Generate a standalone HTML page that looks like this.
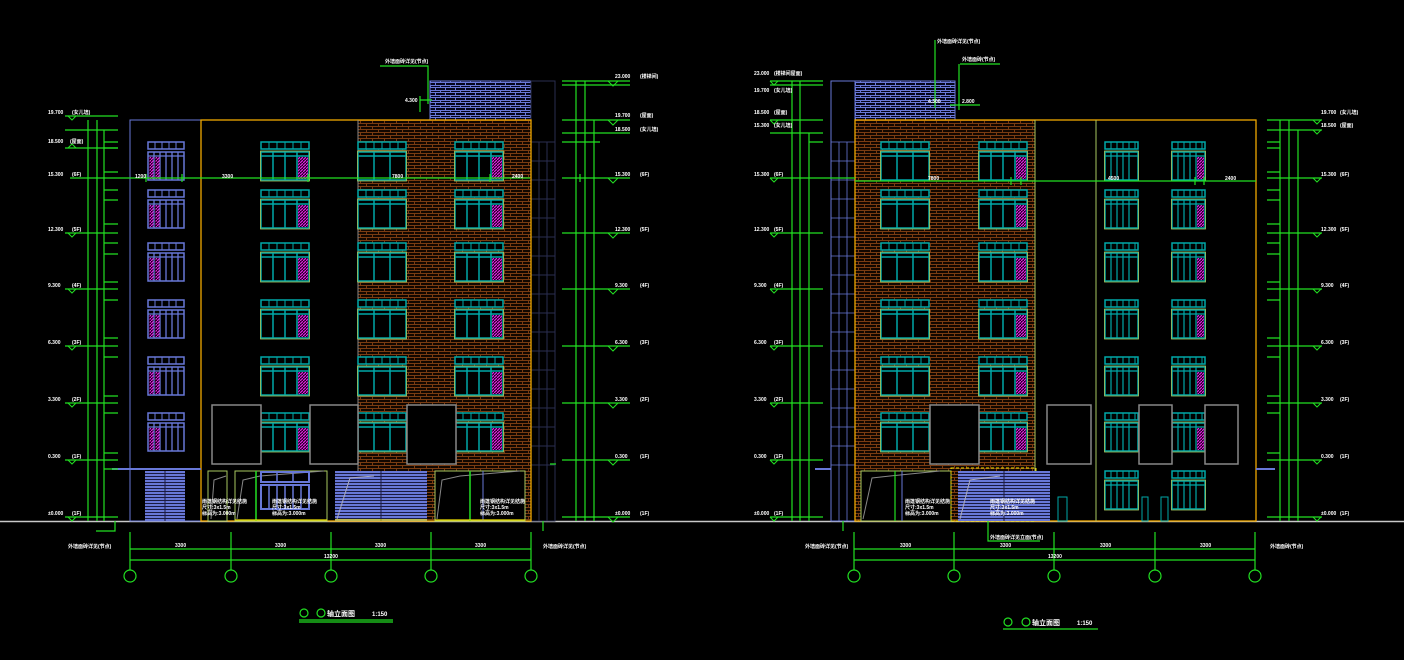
<!DOCTYPE html>
<html><head><meta charset="utf-8"><style>
html,body{margin:0;padding:0;background:#000;width:1404px;height:660px;overflow:hidden}
svg{display:block}
text{font-family:"Liberation Sans","Noto Sans CJK SC",sans-serif;fill:#fff;font-size:5px;font-weight:bold}
</style></head><body>
<svg width="1404" height="660" viewBox="0 0 1404 660" xmlns="http://www.w3.org/2000/svg">
<defs>
<pattern id="brk" width="12" height="6" patternUnits="userSpaceOnUse">
<rect width="12" height="6" fill="#120700"/>
<path d="M0 0.5H12M0 3.5H12M0.5 0.5V3.5M6.5 3.5V6" stroke="#7a3c12" stroke-width="1"/>
</pattern>
<pattern id="bbrk" width="10" height="5" patternUnits="userSpaceOnUse">
<rect width="10" height="5" fill="#05051a"/>
<path d="M0 0.5H10M0.5 0.5V2.5M5.5 2.5V5M0 2.5H10" stroke="#6a78d8" stroke-width="1"/>
</pattern>
<pattern id="mag" width="3" height="3" patternUnits="userSpaceOnUse">
<rect width="3" height="3" fill="#200020"/>
<path d="M0 3L3 0" stroke="#e020e0" stroke-width="1.2"/>
</pattern>
<g id="w48">
<rect x="0" y="0" width="48" height="7" fill="#000" stroke="#00a8a8" stroke-width="1.5"/>
<path d="M8 0V7M16 0V7M24 0V7M32 0V7M40 0V7" stroke="#00a8a8"/>
<rect x="0" y="10" width="48" height="28" fill="#000" stroke="#00a8a8" stroke-width="1.5"/>
<path d="M0 14H48M12 10V38M24 10V38M36 10V38" stroke="#00a8a8" stroke-width="1.5"/>
<rect x="37" y="15" width="10" height="22" fill="url(#mag)"/>
<rect x="-0.5" y="9" width="49" height="30" fill="none" stroke="#a8c860" stroke-width="0.8"/>
</g>
<g id="w48n">
<rect x="0" y="0" width="48" height="7" fill="#000" stroke="#00a8a8" stroke-width="1.5"/>
<path d="M8 0V7M16 0V7M24 0V7M32 0V7M40 0V7" stroke="#00a8a8"/>
<rect x="0" y="10" width="48" height="28" fill="#000" stroke="#00a8a8" stroke-width="1.5"/>
<path d="M0 14H48M16 10V38M32 10V38" stroke="#00a8a8" stroke-width="1.5"/>
<rect x="-0.5" y="9" width="49" height="30" fill="none" stroke="#a8c860" stroke-width="0.8"/>
</g>
<g id="w33">
<rect x="0" y="0" width="33" height="7" fill="#000" stroke="#00a8a8" stroke-width="1.5"/>
<path d="M6 0V7M12 0V7M18 0V7M24 0V7M30 0V7" stroke="#00a8a8"/>
<rect x="0" y="10" width="33" height="28" fill="#000" stroke="#00a8a8" stroke-width="1.5"/>
<path d="M0 14H33M6 10V38M12 10V38M18 10V38M24 10V38" stroke="#00a8a8" stroke-width="1.2"/>
<rect x="-0.5" y="9" width="34" height="30" fill="none" stroke="#a8c860" stroke-width="0.8"/>
</g>
<g id="w33m">
<use href="#w33"/>
<rect x="25" y="15" width="7" height="22" fill="url(#mag)"/>
</g>
<g id="wb">
<rect x="0" y="0" width="36" height="7" fill="#000" stroke="#6878d8" stroke-width="1.5"/>
<path d="M7 0V7M14 0V7M21 0V7M28 0V7" stroke="#6878d8"/>
<rect x="0" y="10" width="36" height="28" fill="#000" stroke="#6878d8" stroke-width="1.5"/>
<path d="M0 14H36M6 10V38M12 10V38M18 10V38M24 10V38M30 10V38" stroke="#6878d8" stroke-width="1.3"/>
<rect x="1.5" y="15" width="4" height="22" fill="url(#mag)"/>
<rect x="7.5" y="15" width="4" height="22" fill="url(#mag)"/>
</g>
<g id="shut">
<path d="M0 0H40" stroke="#6878d8"/>
</g>
<pattern id="lou" width="4" height="3" patternUnits="userSpaceOnUse">
<rect width="4" height="3" fill="#6878d8"/><path d="M0 2.5H4" stroke="#1a1a40" stroke-width="1"/>
</pattern>
</defs>

<!-- ground line -->
<path d="M0 521.5H1404" stroke="#c8c8c8" stroke-width="1.5"/>

<!-- ============ LEFT BUILDING ============ -->
<rect x="358" y="120" width="173" height="401" fill="url(#brk)"/>
<rect x="430" y="81" width="101" height="39" fill="url(#bbrk)" stroke="#6a78d8"/>
<rect x="531" y="81" width="24" height="440" fill="none" stroke="#2a2e50"/>
<path d="M531 142H555M531 161H555M531 180H555M531 199H555M531 218H555M531 237H555M531 256H555M531 275H555M531 294H555M531 313H555M531 332H555M531 351H555M531 370H555M531 389H555M531 408H555M531 427H555M531 446H555M531 465H555M539 142V521M547 142V521" stroke="#2a2e50"/>
<rect x="130" y="120" width="71" height="401" fill="none" stroke="#6878d8"/>
<rect x="201" y="120" width="330" height="401" fill="none" stroke="#f0a800" stroke-width="1.3"/>
<path d="M358 120V521" stroke="#888" />
<!-- windows -->
<g>
<use href="#wb" x="148" y="142"/><use href="#wb" x="148" y="190"/><use href="#wb" x="148" y="243"/><use href="#wb" x="148" y="300"/><use href="#wb" x="148" y="357"/><use href="#wb" x="148" y="413"/>
<use href="#w48" x="261" y="142"/><use href="#w48" x="261" y="190"/><use href="#w48" x="261" y="243"/><use href="#w48" x="261" y="300"/><use href="#w48" x="261" y="357"/><use href="#w48" x="261" y="413"/>
<use href="#w48n" x="358" y="142"/><use href="#w48n" x="358" y="190"/><use href="#w48n" x="358" y="243"/><use href="#w48n" x="358" y="300"/><use href="#w48n" x="358" y="357"/><use href="#w48n" x="358" y="413"/>
<use href="#w48" x="455" y="142"/><use href="#w48" x="455" y="190"/><use href="#w48" x="455" y="243"/><use href="#w48" x="455" y="300"/><use href="#w48" x="455" y="357"/><use href="#w48" x="455" y="413"/>
</g>
<!-- grey openings -->
<rect x="212" y="405" width="49" height="59" fill="#000" stroke="#888" stroke-width="1.5"/>
<rect x="310" y="405" width="48" height="59" fill="#000" stroke="#888" stroke-width="1.5"/>
<rect x="407" y="405" width="49" height="59" fill="#000" stroke="#888" stroke-width="1.5"/>
<!-- ground floor -->
<path d="M112 469H201" stroke="#6878d8" stroke-width="2"/>
<rect x="145" y="471" width="40" height="50" fill="url(#lou)"/><path d="M165 471V521" stroke="#1a1a40"/>
<rect x="208" y="471" width="19" height="50" fill="#000" stroke="#a8c860"/>
<path d="M211 519L214 480L226 476" stroke="#888" fill="none"/>
<rect x="235" y="471" width="92" height="50" fill="#000" stroke="#a8c860"/>
<path d="M237 519L243 480L260 476L324 471" stroke="#888" fill="none"/>
<path d="M256 471V521" stroke="#22e022" stroke-width="1.5"/>
<rect x="261" y="472" width="48" height="10" fill="none" stroke="#6878d8" stroke-width="2"/>
<rect x="261" y="485" width="48" height="24" fill="none" stroke="#6878d8" stroke-width="2"/>
<path d="M269 485V509M277 485V509M285 485V509M293 485V509M301 485V509M277 472V482M293 472V482" stroke="#6878d8" stroke-width="1.5"/>
<rect x="335" y="471" width="92" height="50" fill="url(#lou)"/><path d="M381 471V521" stroke="#1a1a40"/>
<path d="M337 519L350 478L374 476" stroke="#aab" fill="none"/>
<rect x="435" y="471" width="90" height="50" fill="#000" stroke="#a8c860"/>
<path d="M437 519L442 480L460 476L520 471" stroke="#888" fill="none"/>
<path d="M470 471V521" stroke="#22e022" stroke-width="1.5"/><path d="M483 471V521" stroke="#6878d8"/>
<path d="M235 520H327M435 520H525M335 520H427" stroke="#f0e000" stroke-width="1.2"/>
<text x="202" y="503">雨篷钢结构详见结施</text><text x="202" y="509">尺寸:3x1.5m</text><text x="202" y="515">标高为:3.000m</text>
<text x="272" y="503">雨篷钢结构详见结施</text><text x="272" y="509">尺寸:3x1.5m</text><text x="272" y="515">标高为:3.000m</text>
<text x="480" y="503">雨篷钢结构详见结施</text><text x="480" y="509">尺寸:3x1.5m</text><text x="480" y="515">标高为:3.000m</text>

<!-- left dims -->
<g stroke="#22e022" stroke-width="1.2" fill="none">
<path d="M88 120V521M97 120V521M104 130V521"/>
<path d="M65 116H118M65 130H118M65 148H118M70 178H130M65 233H118M65 289H118M65 346H118M65 403H118M65 460H118M65 517H118"/>
<path d="M104 142H118M104 148H118M104 172H118M104 190H118M104 200H118M104 224H118M104 243H118M104 254H118M104 282H118M104 300H118M104 338H118M104 357H118M104 396H118M104 413H118M104 453H118M104 469H118"/>
<path d="M130 178H530M146 174V182M182 174V182M308 174V182M580 174V182M490 174V182"/>
<path d="M380 66H428V104M420 100H432M420 96V112"/>
<path d="M576 81V521M585 81V521M594 120V521M562 81H630M562 85H630M562 120H630M562 133H630M562 142H600M562 178H630M562 233H630M562 289H630M562 346H630M562 403H630M562 460H630M562 517H630M550 464H556"/>
<path d="M115 521V531H96M543 521V531"/>
</g>
<g fill="none" stroke="#22e022">
<path d="M68 116l4 4 4-4M68 148l4-4 4 4M68 233l4 4 4-4M68 289l4 4 4-4M68 346l4 4 4-4M68 403l4 4 4-4M68 460l4 4 4-4M68 517l4 4 4-4"/>
<path d="M608 81l5 5 5-5M608 120l5 5 5-5M608 178l5 5 5-5M608 233l5 5 5-5M608 289l5 5 5-5M608 346l5 5 5-5M608 403l5 5 5-5M608 460l5 5 5-5M608 517l5 5 5-5"/>
</g>
<g>
<text x="48" y="114">19.700</text><text x="72" y="114">(女儿墙)</text>
<text x="48" y="143">18.500</text><text x="70" y="143">(屋面)</text>
<text x="48" y="176">15.300</text><text x="72" y="176">(6F)</text>
<text x="48" y="231">12.300</text><text x="72" y="231">(5F)</text>
<text x="48" y="287">9.300</text><text x="72" y="287">(4F)</text>
<text x="48" y="344">6.300</text><text x="72" y="344">(3F)</text>
<text x="48" y="401">3.300</text><text x="72" y="401">(2F)</text>
<text x="48" y="458">0.300</text><text x="72" y="458">(1F)</text>
<text x="48" y="515">±0.000</text><text x="72" y="515">(1F)</text>
<text x="615" y="78">23.000</text><text x="640" y="78">(楼梯间)</text>
<text x="615" y="117">19.700</text><text x="640" y="117">(屋面)</text>
<text x="615" y="131">18.500</text><text x="640" y="131">(女儿墙)</text>
<text x="615" y="176">15.300</text><text x="640" y="176">(6F)</text>
<text x="615" y="231">12.300</text><text x="640" y="231">(5F)</text>
<text x="615" y="287">9.300</text><text x="640" y="287">(4F)</text>
<text x="615" y="344">6.300</text><text x="640" y="344">(3F)</text>
<text x="615" y="401">3.300</text><text x="640" y="401">(2F)</text>
<text x="615" y="458">0.300</text><text x="640" y="458">(1F)</text>
<text x="615" y="515">±0.000</text><text x="640" y="515">(1F)</text>
<text x="385" y="63">外墙面砖详见(节点)</text>
<text x="405" y="102">4.300</text>
<text x="135" y="178">1200</text><text x="222" y="178">3300</text><text x="392" y="178">7800</text><text x="512" y="178">2400</text>
<text x="68" y="548">外墙面砖详见(节点)</text><text x="543" y="548">外墙面砖详见(节点)</text>
</g>
<!-- bottom axes left -->
<g stroke="#22e022" stroke-width="1.2" fill="none">
<path d="M130 549H531M130 560H531M130 532V570M231 532V570M331 532V570M431 532V570M531 532V570"/>
<circle cx="130" cy="576" r="6"/><circle cx="231" cy="576" r="6"/><circle cx="331" cy="576" r="6"/><circle cx="431" cy="576" r="6"/><circle cx="531" cy="576" r="6"/>
<path d="M299 620H393M299 622H393"/>
<circle cx="304" cy="613" r="4"/><circle cx="321" cy="613" r="4"/>
</g>
<text x="175" y="547">3300</text><text x="275" y="547">3300</text><text x="375" y="547">3300</text><text x="475" y="547">3300</text><text x="324" y="558">13200</text>
<text x="327" y="616" style="font-size:7px">轴立面图</text><text x="372" y="616" style="font-size:6px">1:150</text>

<!-- ============ RIGHT BUILDING ============ -->
<rect x="855" y="120" width="180" height="401" fill="url(#brk)"/>
<rect x="855" y="81" width="100" height="39" fill="url(#bbrk)" stroke="#6a78d8"/>
<rect x="831" y="81" width="24" height="440" fill="none" stroke="#6878d8"/>
<path d="M831 142H855M831 161H855M831 180H855M831 199H855M831 218H855M831 237H855M831 256H855M831 275H855M831 294H855M831 313H855M831 332H855M831 351H855M831 370H855M831 389H855M831 408H855M831 427H855M831 446H855M831 465H855M839 142V521M847 142V521" stroke="#6878d8" stroke-width="0.8"/>
<rect x="855" y="120" width="401" height="401" fill="none" stroke="#f0a800" stroke-width="1.3"/>
<path d="M1035 120V521M1096 120V521" stroke="#a8c860"/>
<g>
<use href="#w48n" x="881" y="142"/><use href="#w48n" x="881" y="190"/><use href="#w48n" x="881" y="243"/><use href="#w48n" x="881" y="300"/><use href="#w48n" x="881" y="357"/><use href="#w48n" x="881" y="413"/>
<use href="#w48" x="979" y="142"/><use href="#w48" x="979" y="190"/><use href="#w48" x="979" y="243"/><use href="#w48" x="979" y="300"/><use href="#w48" x="979" y="357"/><use href="#w48" x="979" y="413"/>
<use href="#w33" x="1105" y="142"/><use href="#w33" x="1105" y="190"/><use href="#w33" x="1105" y="243"/><use href="#w33" x="1105" y="300"/><use href="#w33" x="1105" y="357"/><use href="#w33" x="1105" y="413"/><use href="#w33" x="1105" y="471"/>
<use href="#w33m" x="1172" y="142"/><use href="#w33m" x="1172" y="190"/><use href="#w33m" x="1172" y="243"/><use href="#w33m" x="1172" y="300"/><use href="#w33m" x="1172" y="357"/><use href="#w33m" x="1172" y="413"/><use href="#w33" x="1172" y="471"/>
</g>
<rect x="930" y="405" width="49" height="59" fill="#000" stroke="#888" stroke-width="1.5"/>
<rect x="1047" y="405" width="44" height="59" fill="#000" stroke="#888" stroke-width="1.5"/>
<rect x="1139" y="405" width="33" height="59" fill="#000" stroke="#888" stroke-width="1.5"/>
<rect x="1205" y="405" width="33" height="59" fill="#000" stroke="#888" stroke-width="1.5"/>
<rect x="861" y="471" width="90" height="50" fill="#000" stroke="#a8c860"/>
<path d="M863 519L872 478L890 476L940 471" stroke="#888" fill="none"/>
<path d="M895 471V521" stroke="#22e022" stroke-width="1.2"/><path d="M902 471V521" stroke="#6878d8"/>
<rect x="951" y="468" width="85" height="53" fill="none" stroke="#f0e000" stroke-dasharray="3 2"/>
<rect x="958" y="471" width="92" height="50" fill="url(#lou)"/><path d="M1004 471V521" stroke="#1a1a40"/>
<path d="M960 519L970 480L1000 476" stroke="#aab" fill="none"/>
<rect x="1058" y="497" width="9" height="24" fill="none" stroke="#00a8a8"/>
<rect x="1142" y="497" width="6" height="24" fill="none" stroke="#00a8a8"/>
<rect x="1161" y="497" width="7" height="24" fill="none" stroke="#00a8a8"/>
<path d="M1256 469H1275M815 469H831" stroke="#6878d8" stroke-width="2"/>
<text x="905" y="503">雨篷钢结构详见结施</text><text x="905" y="509">尺寸:3x1.5m</text><text x="905" y="515">标高为:3.000m</text>
<text x="990" y="503">雨篷钢结构详见结施</text><text x="990" y="509">尺寸:3x1.5m</text><text x="990" y="515">标高为:3.000m</text>

<g stroke="#22e022" stroke-width="1.2" fill="none">
<path d="M792 81V521M800 81V521M809 133V521M770 81H823M770 85H823M770 120H823M770 133H823M809 142H823M770 178H855M770 233H823M770 289H823M770 346H823M770 403H823M770 460H823M770 517H823"/>
<path d="M1280 120V521M1289 120V521M1298 130V521M1267 120H1322M1267 130H1322M1267 178H1322M1267 233H1322M1267 289H1322M1267 346H1322M1267 403H1322M1267 460H1322M1267 517H1322"/>
<path d="M1267 142H1280M1267 148H1280M1267 172H1280M1267 190H1280M1267 200H1280M1267 224H1280M1267 243H1280M1267 254H1280M1267 282H1280M1267 300H1280M1267 338H1280M1267 357H1280M1267 396H1280M1267 413H1280M1267 453H1280"/>
<path d="M855 181H1256M1011 177V185M1021 177V185M1195 177V185M1204 177V185"/>
<path d="M935 40V108M960 64H1000M959 64V110M950 105H980"/>
<path d="M988 521V541H1040M843 521V531"/>
</g>
<g fill="none" stroke="#22e022">
<path d="M770 81l4 4 4-4M770 120l4 4 4-4M770 178l4 4 4-4M770 233l4 4 4-4M770 289l4 4 4-4M770 346l4 4 4-4M770 403l4 4 4-4M770 460l4 4 4-4M770 517l4 4 4-4"/>
<path d="M1313 120l4 4 4-4M1313 130l4 4 4-4M1313 178l4 4 4-4M1313 233l4 4 4-4M1313 289l4 4 4-4M1313 346l4 4 4-4M1313 403l4 4 4-4M1313 460l4 4 4-4M1313 517l4 4 4-4"/>
</g>
<g>
<text x="754" y="75">23.000</text><text x="774" y="75">(楼梯间屋面)</text>
<text x="754" y="92">19.700</text><text x="774" y="92">(女儿墙)</text>
<text x="754" y="114">18.500</text><text x="774" y="114">(屋面)</text>
<text x="754" y="127">15.300</text><text x="774" y="127">(女儿墙)</text>
<text x="754" y="176">15.300</text><text x="774" y="176">(6F)</text>
<text x="754" y="231">12.300</text><text x="774" y="231">(5F)</text>
<text x="754" y="287">9.300</text><text x="774" y="287">(4F)</text>
<text x="754" y="344">6.300</text><text x="774" y="344">(3F)</text>
<text x="754" y="401">3.300</text><text x="774" y="401">(2F)</text>
<text x="754" y="458">0.300</text><text x="774" y="458">(1F)</text>
<text x="754" y="515">±0.000</text><text x="774" y="515">(1F)</text>
<text x="1321" y="114">19.700</text><text x="1340" y="114">(女儿墙)</text>
<text x="1321" y="127">18.500</text><text x="1340" y="127">(屋面)</text>
<text x="1321" y="176">15.300</text><text x="1340" y="176">(6F)</text>
<text x="1321" y="231">12.300</text><text x="1340" y="231">(5F)</text>
<text x="1321" y="287">9.300</text><text x="1340" y="287">(4F)</text>
<text x="1321" y="344">6.300</text><text x="1340" y="344">(3F)</text>
<text x="1321" y="401">3.300</text><text x="1340" y="401">(2F)</text>
<text x="1321" y="458">0.300</text><text x="1340" y="458">(1F)</text>
<text x="1321" y="515">±0.000</text><text x="1340" y="515">(1F)</text>
<text x="937" y="43">外墙面砖详见(节点)</text><text x="962" y="61">外墙面砖(节点)</text>
<text x="928" y="103">4.300</text><text x="962" y="103">2.800</text>
<text x="928" y="180">7800</text><text x="1108" y="180">4500</text><text x="1225" y="180">2400</text>
<text x="990" y="539">外墙面砖详见立面(节点)</text>
<text x="805" y="548">外墙面砖详见(节点)</text><text x="1270" y="548">外墙面砖(节点)</text>
</g>
<g stroke="#22e022" stroke-width="1.2" fill="none">
<path d="M854 549H1255M854 560H1255M854 532V570M954 532V570M1054 532V570M1155 532V570M1255 532V570"/>
<circle cx="854" cy="576" r="6"/><circle cx="954" cy="576" r="6"/><circle cx="1054" cy="576" r="6"/><circle cx="1155" cy="576" r="6"/><circle cx="1255" cy="576" r="6"/>
<path d="M1003 629H1098"/>
<circle cx="1008" cy="622" r="4"/><circle cx="1026" cy="622" r="4"/>
</g>
<text x="900" y="547">3300</text><text x="1000" y="547">3300</text><text x="1100" y="547">3300</text><text x="1200" y="547">3300</text><text x="1048" y="558">13200</text>
<text x="1032" y="625" style="font-size:7px">轴立面图</text><text x="1077" y="625" style="font-size:6px">1:150</text>
</svg>
</body></html>
